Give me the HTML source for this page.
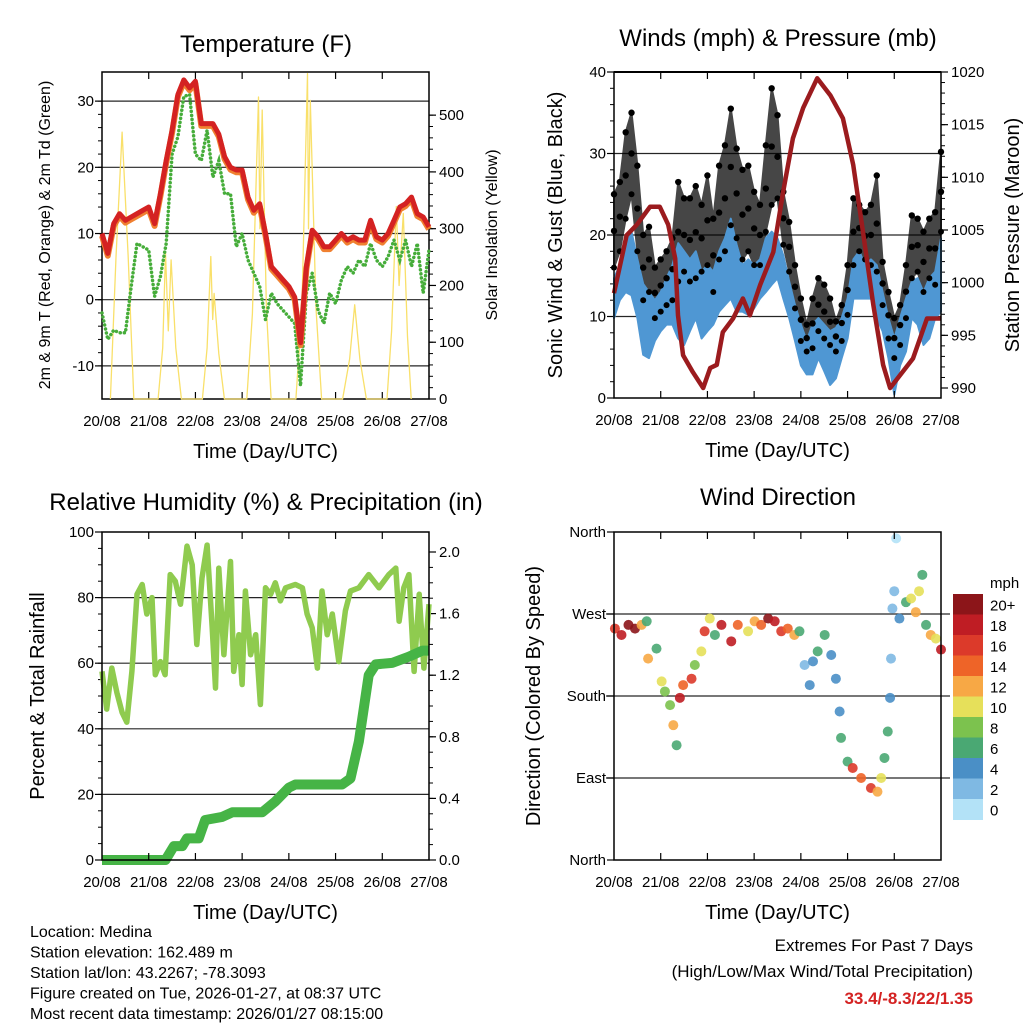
<!DOCTYPE html>
<html><head><meta charset="utf-8"><style>
html,body{margin:0;padding:0;background:#fff;}
svg{display:block;font-family:"Liberation Sans",Arial,sans-serif;}
</style></head><body>
<svg id="s" width="1024" height="1024" viewBox="0 0 1024 1024" xmlns="http://www.w3.org/2000/svg"></svg>
<script>
// ---------- DATA ----------
const dayLabels=["20/08","21/08","22/08","23/08","24/08","25/08","26/08","27/08"];
const tempRed=[10,7,11.5,13,12,12.5,13,13.5,14,11.5,16,21,25.6,31,33.2,32,33,26.6,26.6,26.6,25,21.6,20,19.6,19.6,15.5,13.5,14.5,10,5,4,3,2,0.4,-6.5,5,10.5,9.5,8,8,9,10,9,9.5,9,9,12,9.5,9,10,12,14,14.5,15.5,13,12.5,11];
const tempGreen=[-2,-6,-4.6,-5,-5,2,8.5,8,7.5,0.5,3.5,8.5,22,24.6,30.7,31,22,21,25.6,18.5,21,16,16,8,10,6,4,2,-3,1,-0.6,-1.6,-2.6,-3.6,-13,1,4,-1.6,-3.6,1,-0.6,3,5,4,6,5,8.5,6,5,6.5,9,6,9,5,8.5,1,7.5];
const solarDays=[0.18,0.3,0.43,0.56,0.68, 1.2,1.3,1.36,1.42,1.48,1.58,1.7, 2.15,2.25,2.33,2.37,2.4,2.5,2.62, 3.1,3.22,3.35,3.38,3.43,3.52,3.62, 4.15,4.28,4.4,4.42,4.46,4.58,4.7, 5.15,5.3,5.41,5.52,5.66, 6.1,6.2,6.3,6.36,6.45,6.54,6.62];
const solarVals=[0,250,470,250,0, 0,90,257,120,245,90,0, 0,90,251,140,186,80,0, 0,150,532,300,509,160,0, 0,160,573,300,526,160,0, 0,70,166,70,0, 0,120,339,200,327,110,0];
const windHi=[14.7,16.3,19.6,20.4,17,14,13,12,13,14.7,16.3,19,18,17,18,15.5,16.3,15.5,18,19.6,22,18.8,16.3,17,16.3,17,19.6,20.4,19.6,17.5,14.3,11.4,9,7,9,9.8,9,8.2,8.6,9.8,12.2,17,18,16.3,17,16.3,13,9.8,7.3,9.8,12.2,14.3,14.7,13,14.7,15.5,19.6];
const windLo=[9.8,12,13,12.6,9.8,5.3,4.9,7,8.2,9,9,7.3,6.5,8.2,9.8,7.3,8.2,9,10.6,11.4,12.2,10.6,10.6,10.2,11,12.2,13,13.9,14.7,12.2,9.8,7,4,2.9,2.9,4.9,3.3,1.6,2.4,4.9,7.3,12.2,12.2,12.2,12.2,9.8,8.2,4.9,0.4,4,5.7,9.8,9,6.5,7.3,9.8,10.6];
const gustHi=[25,26.5,32.6,35,28.5,20,21,16,17,18,19.6,26.5,24.5,24.5,26,23.7,27.3,22,28.5,31,35.5,30.6,28,28.5,25.3,23.7,31,38,34.7,25.3,21.6,16.3,12.2,9,12.2,14.7,13.9,12.2,9.4,11.4,16.3,24.5,23.7,22.8,23.7,27.3,16.7,13,9.8,11.4,16.3,22.4,22,20.4,22,22.8,30.2];
const gustLo=[16,18,22,25,18,12,13,9.8,10.6,11.4,12,14.3,15.5,14.3,14.7,15.5,16.3,13,17,18,21.2,19.6,17,18,16.3,16.3,20.4,23.7,24.5,18.8,15.5,11,7,5.7,6.1,8.2,7.3,6.5,5.7,7,10.2,16.3,18,17,16.3,15.5,11.4,7.3,4.9,6.5,9.8,14.7,15.5,13,14.7,13.9,20.4];
const presDays=[0,0.27,0.49,0.77,0.98,1.16,1.31,1.37,1.48,1.69,1.91,2.06,2.2,2.33,2.55,2.76,2.91,3.13,3.41,3.62,3.83,4.05,4.35,4.63,4.9,5.12,5.33,5.55,5.76,5.91,6.12,6.4,6.7,7.0];
const presVals=[999,1004.5,1005.5,1007.2,1007.2,1005.5,1002.3,996.9,993.1,991.5,990,991.9,992.2,995.3,996.6,998.5,996.9,999.8,1002.9,1008.6,1013.7,1016.6,1019.4,1017.8,1015.6,1011.2,1004.8,997.9,992.2,990,991.2,992.8,996.6,996.6];
const rhDays=[0,0.1,0.21,0.32,0.43,0.53,0.64,0.75,0.86,0.96,1.07,1.14,1.25,1.35,1.46,1.57,1.68,1.82,1.93,2.03,2.14,2.25,2.36,2.43,2.5,2.61,2.75,2.82,2.93,3.0,3.07,3.18,3.29,3.39,3.5,3.61,3.71,3.82,3.93,4.14,4.29,4.39,4.5,4.61,4.71,4.82,4.93,5.07,5.21,5.32,5.5,5.71,5.93,6.14,6.29,6.36,6.46,6.57,6.68,6.79,6.89,7.0];
const rhVals=[57.5,46,58.5,51,45,42,57.5,81,84,75,80,56.5,60.5,56.5,87,85,78,95.7,90,65.7,86,96,70.8,52.4,89,62.6,91,57.5,68.7,53.5,82,62.6,68.7,47.4,83,81,84.5,79,83,84,83,75,70.8,58.5,82,68.7,75,60.5,76,82,83,87,83,87,89,72.8,83,87,57.5,81,58.5,78];
const precipDays=[0,0.79,1.36,1.54,1.72,1.82,2.07,2.21,2.57,2.79,3.43,3.71,4.0,4.14,5.14,5.32,5.5,5.71,5.86,6.21,6.57,6.86,7.0];
const precipVals=[0,0,0,0.09,0.09,0.14,0.14,0.26,0.28,0.31,0.31,0.38,0.47,0.49,0.49,0.53,0.77,1.2,1.27,1.28,1.32,1.36,1.36];
const dirDays=[0.02,0.16,0.31,0.45,0.59,0.70,0.73,0.91,1.02,1.09,1.2,1.27,1.34,1.41,1.48,1.66,1.73,1.87,1.94,2.05,2.16,2.3,2.51,2.65,2.87,3.01,3.15,3.3,3.44,3.58,3.72,3.86,3.97,4.08,4.19,4.26,4.36,4.51,4.65,4.75,4.83,4.86,5.0,5.11,5.29,5.5,5.64,5.72,5.79,5.86,5.91,5.93,5.96,6.0,6.04,6.11,6.25,6.36,6.46,6.53,6.6,6.68,6.78,6.89,7.0];
const dirVals=[254,247,258,254,258,262,221,232,196,185,170,148,126,178,192,199,214,229,251,265,247,258,240,258,251,262,258,265,262,251,254,247,251,214,192,218,229,247,225,199,163,134,108,101,90,79,75,90,112,141,178,221,276,295,353,265,283,287,272,295,313,258,247,243,231];
const dirSpeeds=[16,18,20,20,12,6,12,7,10,8,9,13,7,19,14,16,8,10,16,10,7,18,19,14,10,12,14,20,19,16,15,12,7,2,4,4,7,6,4,4,4,6,6,17,14,16,13,10,7,6,5,3,3,2,1,4,7,10,13,10,7,7,12,10,19];
const tempTicks=[-10,0,10,20,30];
const solarTicks=[0,100,200,300,400,500];
const windTicks=[0,10,20,30,40];
const presTicks=[990,995,1000,1005,1010,1015,1020];
const rhTicks=[0,20,40,60,80,100];
const precipTicks=[0,0.4,0.8,1.2,1.6,2.0];
const dirTicks=[0,90,180,270,360];
const dirNames=["North","East","South","West","North"];
const cbLabels=["20+","18","16","14","12","10","8","6","4","2","0"];
const cbColors=["#8c1519","#bf1d24","#dc3a2a","#ee6428","#f7a845","#e6e05a","#7cc24e","#4aa873","#4a8fc6","#7fb9e3","#b3e2f7"];

// ---------- HELPERS ----------
const S=document.getElementById('s');const NS='http://www.w3.org/2000/svg';
function mk(tag,attrs,parent){const e=document.createElementNS(NS,tag);for(const k in attrs)e.setAttribute(k,attrs[k]);(parent||S).appendChild(e);return e;}
function txt(x,y,s,size,anchor,extra){const e=mk('text',Object.assign({x:x,y:y,'font-size':size,'text-anchor':anchor||'middle',fill:'#000'},extra||{}));e.textContent=s;return e;}
function mkX(P){return d=>P.x0+d*(P.x1-P.x0)/7;}
function lin(v0,v1,y0,y1){return v=>y0+(v-v0)*(y1-y0)/(v1-v0);}
function pts(xs,ys,fx,fy){return xs.map((x,i)=>fx(x).toFixed(1)+','+fy(ys[i]).toFixed(1)).join(' ');}
const idx=tempRed.map((_,i)=>i*0.125);

function frame(P,name){
  const g=mk('g',{});
  
  
  mk('rect',{x:P.x0,y:P.y0,width:P.x1-P.x0,height:P.y1-P.y0,fill:'none',stroke:'#000','stroke-width':1.5},g);
  const fx=mkX(P);
  for(let d=0;d<=7;d++){
    const x=fx(d);
    if(d>0&&d<7){mk('line',{x1:x,y1:P.y1,x2:x,y2:P.y1-7,stroke:'#000','stroke-width':1.2},g);
    mk('line',{x1:x,y1:P.y0,x2:x,y2:P.y0+7,stroke:'#000','stroke-width':1.2},g);}
    const t=txt(x,P.y1+27,dayLabels[d],15);
    
    
  }
  const xt=txt((P.x0+P.x1)/2,P.y1+59,'Time (Day/UTC)',20);
  
  
  return g;
}
function yTicks(P,ticks,f,side,labels,fmt,grid,minorStep){
  const g=mk('g',{});
  
  
  ticks.forEach((v,i)=>{
    const y=f(v);
    if(grid&&y>P.y0+1&&y<P.y1-1)mk('line',{x1:grid[0],y1:y,x2:grid[1],y2:y,stroke:'#000','stroke-width':1.2,opacity:0.85},g);
    const xe=side==='left'?P.x0:P.x1;const dir=side==='left'?-1:1;
    mk('line',{x1:xe,y1:y,x2:xe+dir*7,y2:y,stroke:'#000','stroke-width':1.2},g);
    const t=txt(side==='left'?P.x0-8:P.x1+10,y+5,labels?labels[i]:fmt(v),15,side==='left'?'end':'start');
    
    
  });
  if(minorStep){for(let v=ticks[0];v<=ticks[ticks.length-1]+1e-9;v+=minorStep){const y=f(v);if(y<P.y0||y>P.y1)continue;const xe=side==='left'?P.x0:P.x1;const dir=side==='left'?-1:1;mk('line',{x1:xe,y1:y,x2:xe+dir*4,y2:y,stroke:'#000','stroke-width':1},g);}}
}
function vtitle(x,y,s,size,name){const t=txt(x,y,s,size,'middle',{transform:'rotate(-90 '+x+' '+y+')'});}

// ---------- PANEL 1: TEMPERATURE ----------
const P1={x0:102,x1:429,y0:72,y1:399};
const x1f=mkX(P1),yT=lin(-15,34.4,399,72),yS=lin(0,576,399,72);
yTicks(P1,tempTicks,yT,'left',null,v=>String(v),[P1.x0,P1.x1],2);
yTicks(P1,solarTicks,yS,'right',null,v=>String(v),null,20);
frame(P1,'temperature');
let t1=txt(266,52,'Temperature (F)',24);
vtitle(50,235,'2m & 9m T (Red, Orange) & 2m Td (Green)',16,'temperature-y-axis-title');
vtitle(497,235,'Solar Insolation (Yellow)',16,'solar-y-axis-title');
let e=mk('polyline',{points:pts(solarDays,solarVals,x1f,yS),fill:'none',stroke:'#f9e06a','stroke-width':1.3,'stroke-linejoin':'round'});

e=mk('polyline',{points:pts(idx,tempGreen,x1f,yT),fill:'none',stroke:'#46ad3a','stroke-width':3.5,'stroke-dasharray':'0.1 4','stroke-linecap':'round'});

e=mk('polyline',{points:pts(idx,tempRed.map(v=>v-0.35),x1f,yT),fill:'none',stroke:'#f08030','stroke-width':6,'stroke-linejoin':'round'});

e=mk('polyline',{points:pts(idx,tempRed,x1f,yT),fill:'none',stroke:'#d42222','stroke-width':5,'stroke-linejoin':'round'});


// ---------- PANEL 2: WINDS ----------
const P2={x0:614,x1:941,y0:72,y1:398};
const x2f=mkX(P2),yW=lin(0,40,398,72),yP=lin(1020,990,72,388);
yTicks(P2,windTicks,yW,'left',null,v=>String(v),[P2.x0,P2.x1],2);
yTicks(P2,presTicks,yP,'right',null,v=>String(v),null,1);
mk('line',{x1:P2.x0,y1:P2.y0,x2:P2.x1,y2:P2.y0,stroke:'#000','stroke-width':2});
let t2=txt(778,46,'Winds (mph) & Pressure (mb)',24);
vtitle(562,235,'Sonic Wind & Gust (Blue, Black)',20,'wind-y-axis-title');
vtitle(1019,235,'Station Pressure (Maroon)',20,'pressure-y-axis-title');
function band(hi,lo,fill,name,op){const up=idx.map((d,i)=>x2f(d).toFixed(1)+','+yW(hi[i]).toFixed(1));const dn=idx.map((d,i)=>x2f(d).toFixed(1)+','+yW(lo[i]).toFixed(1)).reverse();const b=mk('polygon',{points:up.concat(dn).join(' '),fill:fill,opacity:op,stroke:fill,'stroke-width':2,'stroke-linejoin':'round'});}
band(gustHi,gustLo,'#000','gust-band',0.72);
band(windHi,windLo,'#4f97d3','sonic-wind-band',1);
const gd=mk('g',{});
idx.forEach((d,i)=>{
  const c1=mk('circle',{cx:x2f(d),cy:yW(gustHi[i]),r:3.2,fill:'#000'},gd);
  
  
  const c2=mk('circle',{cx:x2f(d),cy:yW((gustHi[i]+gustLo[i])/2),r:3.2,fill:'#000'},gd);
  
  
  const c3=mk('circle',{cx:x2f(d),cy:yW(gustLo[i]),r:3,fill:'#000'},gd);
  
  
});
e=mk('polyline',{points:pts(presDays,presVals,x2f,yP),fill:'none',stroke:'#9b1b1e','stroke-width':4.5,'stroke-linejoin':'round'});

frame(P2,'winds');

// ---------- PANEL 3: RH & PRECIP ----------
const P3={x0:102,x1:429,y0:532,y1:860};
const x3f=mkX(P3),yR=lin(0,100,860,532),yPr=lin(0,2,860,552);
yTicks(P3,rhTicks,yR,'left',null,v=>String(v),[P3.x0,P3.x1],5);
yTicks(P3,precipTicks,yPr,'right',null,v=>v.toFixed(1),null,0.1);
let t3=txt(266,510,'Relative Humidity (%) & Precipitation (in)',24);
vtitle(44,696,'Percent & Total Rainfall',20,'humidity-y-axis-title');
e=mk('polyline',{points:pts(rhDays,rhVals,x3f,yR),fill:'none',stroke:'#8fcb4f','stroke-width':5.5,'stroke-linejoin':'round'});

e=mk('polyline',{points:pts(precipDays,precipVals,x3f,yPr),fill:'none',stroke:'#46b446','stroke-width':10,'stroke-linejoin':'round'});

frame(P3,'humidity');

// ---------- PANEL 4: WIND DIRECTION ----------
const P4={x0:614,x1:941,y0:532,y1:860};
const x4f=mkX(P4),yD=lin(0,360,860,532);
yTicks(P4,dirTicks,yD,'left',dirNames,null,[606,950],null);
let t4=txt(778,505,'Wind Direction',24);
vtitle(540,696,'Direction (Colored By Speed)',20,'direction-y-axis-title');
function spdColor(s){let k=Math.min(10,Math.max(0,Math.floor(s/2)));return cbColors[10-k];}
const gdir=mk('g',{});
dirDays.forEach((d,i)=>{
  const c=mk('circle',{cx:x4f(d),cy:yD(dirVals[i]),r:5,fill:spdColor(dirSpeeds[i]),opacity:0.9},gdir);
  
  
});
frame(P4,'wind-direction');
// colorbar
const cb=mk('g',{});
const cbTop=594,cbH=20.5;
let mph=txt(990,588,'mph',15,'start');
cbColors.forEach((c,i)=>{
  const r=mk('rect',{x:953,y:cbTop+i*cbH,width:30,height:cbH+0.5,fill:c},cb);
  
  
  const l=txt(990,cbTop+i*cbH+cbH/2+6,cbLabels[i],15,'start');
  
  
});

// ---------- FOOTER TEXT ----------
const info=["Location: Medina","Station elevation: 162.489 m","Station lat/lon: 43.2267; -78.3093","Figure created on Tue, 2026-01-27, at 08:37 UTC","Most recent data timestamp: 2026/01/27 08:15:00"];
info.forEach((s,i)=>{const t=txt(30,937+i*20.5,s,16,'start');});
let x1t=txt(973,951,'Extremes For Past 7 Days',17,'end');
let x2t=txt(973,977,'(High/Low/Max Wind/Total Precipitation)',17,'end');
let x3t=txt(973,1004,'33.4/-8.3/22/1.35',17,'end',{fill:'#d42222','font-weight':'bold'});
</script>
</body></html>
